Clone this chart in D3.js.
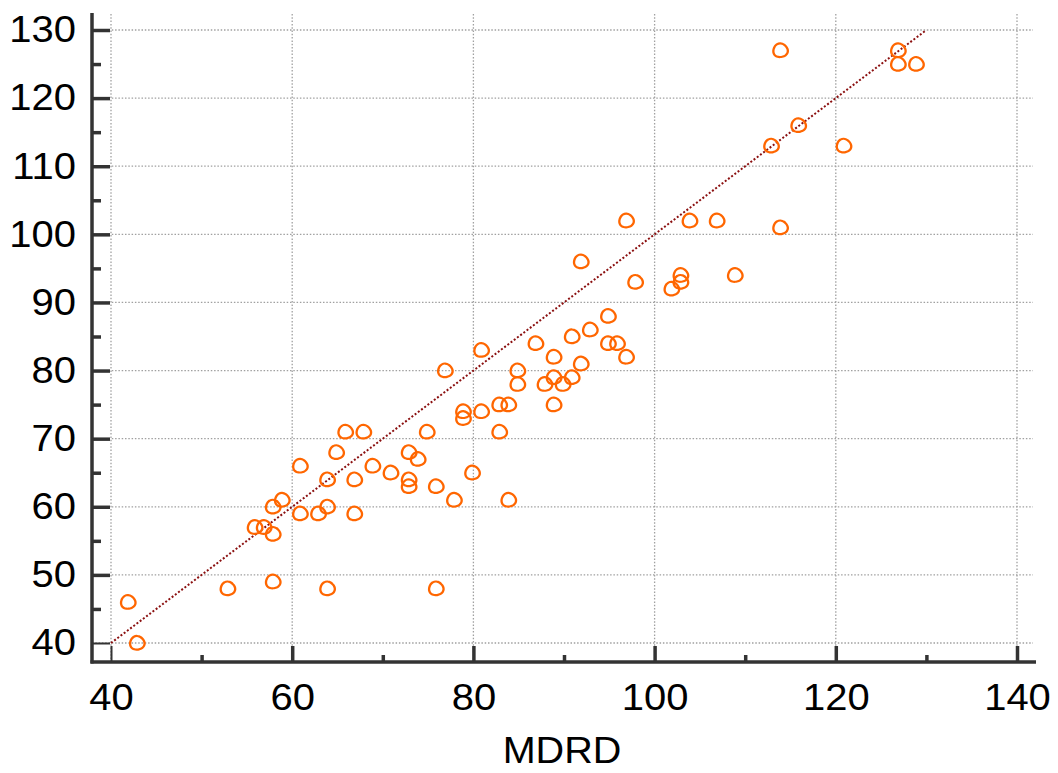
<!DOCTYPE html>
<html>
<head>
<meta charset="utf-8">
<script src="https://cdn.jsdelivr.net/npm/d3@7"></script>
<style>
  body { margin: 0; background: #fff; }
  text { font-family: "Liberation Sans", Arial, sans-serif; fill: #000; }
</style>
</head>
<body>
<div id="chart"></div>
<script>
// MDRD (x) against the compared estimate (y)
var mdrd = [42, 43, 53, 56, 57, 58, 58, 58, 59, 61, 61, 63, 64, 64, 64, 65, 66, 67, 67, 68,
            69, 71, 73, 73, 73, 74, 75, 76, 76, 77, 78, 79, 79, 80, 81, 81, 83, 83, 84, 84,
            85, 85, 87, 88, 89, 89, 89, 90, 91, 91, 92, 92, 93, 95, 95, 96, 97, 97, 98, 102,
            103, 103, 104, 107, 109, 113, 114, 114, 116, 121, 127, 127, 129];
var other = [46, 40, 48, 57, 57, 60, 56, 49, 61, 66, 59, 59, 64, 60, 48, 68, 71, 64, 59, 71,
             66, 65, 68, 64, 63, 67, 71, 63, 48, 80, 61, 74, 73, 65, 83, 74, 71, 75, 75, 61,
             80, 78, 84, 78, 82, 79, 75, 78, 85, 79, 96, 81, 86, 88, 84, 84, 82, 102, 93, 92,
             93, 94, 102, 102, 94, 113, 127, 101, 116, 113, 127, 125, 125];
var xMajor = [40, 60, 80, 100, 120, 140];
var xMinor = [50, 70, 90, 110, 130];
var yMajor = [40, 50, 60, 70, 80, 90, 100, 110, 120, 130];
var yMinor = [45, 55, 65, 75, 85, 95, 105, 115, 125];
var identity = [40, 130];

var data = mdrd.map(function(d, i) { return {x: d, y: other[i]}; });

var width = 1058, height = 773;
var axisX = 92, axisY = 662;

var x = d3.scaleLinear().domain([40, 140]).range([111, 1017]);
var y = d3.scaleLinear().domain([40, 130]).range([643, 30]);

var svg = d3.select("#chart").append("svg")
    .attr("width", width)
    .attr("height", height);

// grid
svg.append("g").selectAll("line")
    .data(xMajor).enter().append("line")
    .attr("x1", function(d) { return x(d); })
    .attr("x2", function(d) { return x(d); })
    .attr("y1", 14).attr("y2", axisY)
    .attr("stroke", "#a0a0a0").attr("stroke-width", 1.3)
    .attr("stroke-dasharray", "1.5,1.8");

svg.append("g").selectAll("line")
    .data(yMajor).enter().append("line")
    .attr("x1", axisX).attr("x2", 1033)
    .attr("y1", function(d) { return y(d); })
    .attr("y2", function(d) { return y(d); })
    .attr("stroke", "#a0a0a0").attr("stroke-width", 1.3)
    .attr("stroke-dasharray", "1.5,1.8");

// line of equality
svg.append("line")
    .attr("x1", x(identity[0])).attr("y1", y(identity[0]))
    .attr("x2", x(identity[1])).attr("y2", y(identity[1]))
    .attr("stroke", "#8b1010").attr("stroke-width", 2)
    .attr("stroke-dasharray", "2,2");

// markers: slightly lumpy open circles
var marker = d3.lineRadial()
    .angle(function(d) { return d; })
    .radius(function(d) { return 6.8 * (1 + 0.04 * Math.cos(3 * d + 0.6)); })
    .curve(d3.curveCardinalClosed);
var angles = d3.range(0, 2 * Math.PI, Math.PI / 12);

svg.append("g").selectAll("path")
    .data(data).enter().append("path")
    .attr("transform", function(d) { return "translate(" + (x(d.x) - 1) + "," + y(d.y) + ") scale(1.06,1)"; })
    .attr("d", marker(angles))
    .attr("fill", "none")
    .attr("stroke", "#ff6600")
    .attr("stroke-width", 2.2);

// axes
var gx = svg.append("g").attr("transform", "translate(0," + axisY + ")");
gx.call(d3.axisBottom(x).tickValues(xMajor).tickSize(-16).tickPadding(22).tickFormat(d3.format("d")));
gx.append("g").call(d3.axisBottom(x).tickValues(xMinor).tickSize(-7).tickFormat(""));

var gy = svg.append("g").attr("transform", "translate(" + axisX + ",0)");
gy.call(d3.axisLeft(y).tickValues(yMajor).tickSize(-18).tickPadding(16).tickFormat(d3.format("d")));
gy.append("g").call(d3.axisLeft(y).tickValues(yMinor).tickSize(-9).tickFormat(""));

[gx, gy].forEach(function(g) {
    g.selectAll(".domain").remove();
    g.selectAll(".tick line").attr("stroke", "#333");
    g.selectAll(".tick text")
        .style("font-family", "'Liberation Sans', Arial, sans-serif")
        .style("font-size", "37px")
        .attr("fill", "#000");
});
gx.selectAll(".tick line").attr("stroke-width", 3.5);
gx.select("g").selectAll(".tick line").attr("stroke-width", 2);
gy.selectAll(".tick line").attr("stroke-width", 3.5);
gy.select("g").selectAll(".tick line").attr("stroke-width", 2);

// stretch labels a little, as in the source
gx.selectAll(".tick text").attr("transform", "scale(1.08,1)");
gy.selectAll(".tick text").attr("transform", "scale(1.08,1)").attr("x", -16 / 1.08);

// axis lines
svg.append("line")
    .attr("x1", axisX).attr("x2", axisX)
    .attr("y1", 13).attr("y2", axisY + 1.5)
    .attr("stroke", "#333").attr("stroke-width", 3.5);
svg.append("line")
    .attr("x1", axisX - 1.5).attr("x2", 1036)
    .attr("y1", axisY).attr("y2", axisY)
    .attr("stroke", "#333").attr("stroke-width", 3.5);

svg.append("text")
    .attr("transform", "translate(562,763) scale(1.07,1)")
    .attr("text-anchor", "middle")
    .style("font-size", "37px")
    .text("MDRD");
</script>
</body>
</html>
